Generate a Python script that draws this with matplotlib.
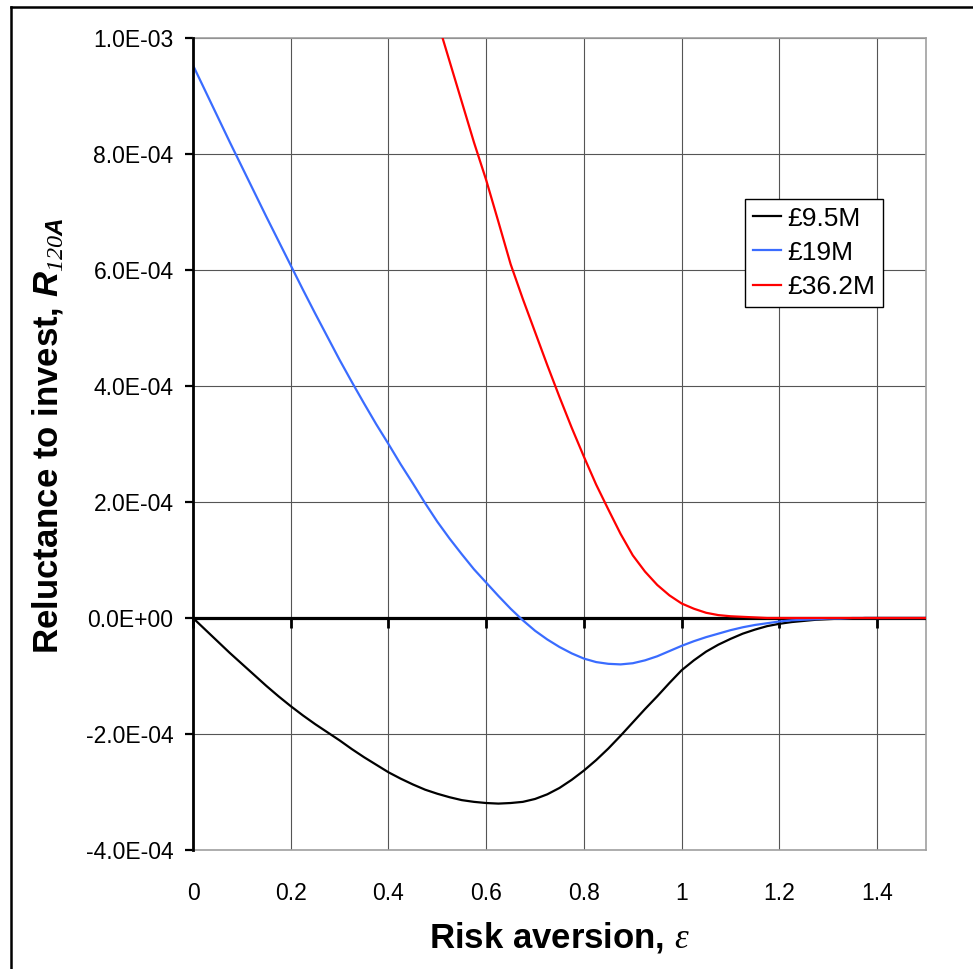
import numpy as np
import matplotlib
matplotlib.use("Agg")
import matplotlib.pyplot as plt
from matplotlib.lines import Line2D
from matplotlib.ticker import FuncFormatter

plt.rcParams['font.family'] = ['Liberation Sans', 'DejaVu Sans']
plt.rcParams['mathtext.fontset'] = 'custom'
plt.rcParams['mathtext.it'] = 'Liberation Sans:italic:bold'
plt.rcParams['mathtext.rm'] = 'Liberation Serif:italic'

# ---- data (values in units of 1e-4) ----
eps = np.linspace(0.0, 1.5, 61)
r_9_5M = [0.00, -0.20, -0.40, -0.60, -0.79, -0.98, -1.17, -1.35, -1.52, -1.68,
          -1.83, -1.97, -2.11, -2.26, -2.40, -2.53, -2.66, -2.77, -2.87, -2.96,
          -3.03, -3.09, -3.14, -3.17, -3.19, -3.20, -3.19, -3.17, -3.12, -3.04,
          -2.93, -2.79, -2.63, -2.45, -2.25, -2.03, -1.80, -1.57, -1.35, -1.12,
          -0.90, -0.73, -0.58, -0.46, -0.36, -0.27, -0.20, -0.14, -0.10, -0.07,
          -0.05, -0.03, -0.02, -0.01, -0.01, 0.00, 0.00, 0.00, 0.00, 0.00, 0.00]
r_19M = [9.53, 9.09, 8.65, 8.21, 7.78, 7.35, 6.92, 6.50, 6.08, 5.66,
         5.25, 4.85, 4.45, 4.07, 3.70, 3.34, 3.00, 2.65, 2.32, 1.98,
         1.66, 1.37, 1.10, 0.84, 0.61, 0.38, 0.16, -0.04, -0.22, -0.37,
         -0.50, -0.61, -0.70, -0.76, -0.79, -0.80, -0.78, -0.73, -0.66, -0.57,
         -0.48, -0.40, -0.33, -0.27, -0.21, -0.16, -0.12, -0.09, -0.06, -0.04,
         -0.03, -0.02, -0.01, -0.01, 0.00, 0.00, 0.00, 0.00, 0.00, 0.00, 0.00]
eps_red = np.linspace(0.5, 1.5, 41)
r_36_2M = [10.3, 9.6, 8.9, 8.2, 7.55, 6.83, 6.10, 5.50, 4.93, 4.36,
           3.81, 3.28, 2.78, 2.30, 1.87, 1.45, 1.08, 0.80, 0.57, 0.39,
           0.25, 0.16, 0.09, 0.05, 0.03, 0.02, 0.01, 0.00, 0.00, 0.00,
           0.00, 0.00, 0.00, 0.00, 0.00, 0.00, 0.00, 0.00, 0.00, 0.00, 0.00]
series_labels = ['£9.5M', '£19M', '£36.2M']
scale = 1e-4

xticks = [0, 0.2, 0.4, 0.6, 0.8, 1.0, 1.2, 1.4]
yticks = [-4e-4, -2e-4, 0, 2e-4, 4e-4, 6e-4, 8e-4, 1e-3]

fig = plt.figure(figsize=(9.73, 9.69), dpi=100)
ax = fig.add_axes([193/973, 1-850/969, (926-193)/973, (850-38)/969])

ax.set_xlim(0, 1.5)
ax.set_ylim(-4e-4, 1e-3)

ax.set_xticks(xticks)
ax.set_yticks(yticks)
ax.xaxis.set_major_formatter(FuncFormatter(lambda v, p: f"{v:g}"))
ax.yaxis.set_major_formatter(FuncFormatter(lambda v, p: f"{v:.1E}"))
ax.grid(True, color='#555555', lw=0.8)
ax.set_axisbelow(True)

ax.tick_params(axis='x', length=0, pad=23, labelsize=16.5)
ax.tick_params(axis='y', length=6, width=1.6, pad=8, labelsize=16.5, color='black')

for s in ['top', 'right', 'bottom']:
    ax.spines[s].set_color('#a0a0a0')
    ax.spines[s].set_linewidth(1.2)
ax.spines['left'].set_color('black')
ax.spines['left'].set_linewidth(2)
ax.spines['left'].set_zorder(5)

# zero axis line with downward tick marks
ax.axhline(0, color='black', lw=2.3, zorder=3)
ax.plot(xticks, np.zeros(len(xticks)), ls='none', marker=3, ms=7, mew=2,
        color='black', zorder=3, clip_on=False)

ax.plot(eps, np.array(r_9_5M) * scale, color='black', lw=1.6, label=series_labels[0], zorder=4)
ax.plot(eps, np.array(r_19M) * scale, color='#3a6cff', lw=1.6, label=series_labels[1], zorder=4)
ax.plot(eps_red, np.array(r_36_2M) * scale, color='#ff0000', lw=1.6, label=series_labels[2], zorder=4)

leg = ax.legend(loc='upper left', bbox_to_anchor=(0.753, 0.802), borderaxespad=0,
                fontsize=19, frameon=True, fancybox=False, shadow=False,
                edgecolor='black', framealpha=1, handlelength=1.05,
                handletextpad=0.25, labelspacing=0.38, borderpad=0.3)
leg.get_frame().set_linewidth(1.0)
leg.set_zorder(10)

ax.set_xlabel(r'Risk aversion, $\mathrm{\varepsilon}$', fontsize=25, fontweight='bold', va='center')
ax.xaxis.set_label_coords(0.5, -0.108)
ax.set_ylabel(r'Reluctance to invest, $\mathit{R}_{\mathit{120A}}$', fontsize=25,
              fontweight='bold', va='center')
ax.yaxis.set_label_coords((48-193)/733, 0.51)

# outer chart frame (top and left visible)
fig.add_artist(Line2D([11/973, 1.0], [1-7/969, 1-7/969], transform=fig.transFigure,
                      color='black', lw=1.8))
fig.add_artist(Line2D([11/973, 11/973], [0.0, 1-7/969], transform=fig.transFigure,
                      color='black', lw=1.8))

fig.savefig('out.png', dpi=100)
